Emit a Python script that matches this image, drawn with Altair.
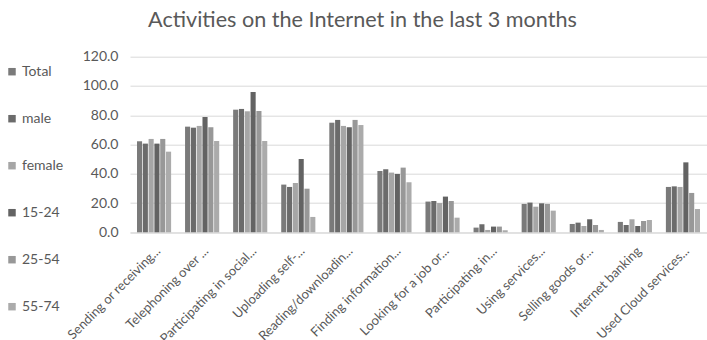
import altair as alt
import pandas as pd

categories = [
    "Sending or receiving...",
    "Telephoning over ...",
    "Participating in social...",
    "Uploading self-...",
    "Reading/downloadin...",
    "Finding information...",
    "Looking for a job or...",
    "Participating in...",
    "Using services...",
    "Selling goods or...",
    "Internet banking",
    "Used Cloud services...",
]

groups = ["Total", "male", "female", "15-24", "25-54", "55-74"]
colors = ["#7a7a7a", "#6b6b6b", "#a6a6a6", "#636363", "#989898", "#ababab"]

total = [62.2, 72.2, 83.8, 32.6, 74.9, 41.9, 21.0, 3.2, 19.4, 5.7, 7.1, 31.0]
male = [60.6, 71.5, 84.3, 31.0, 76.8, 43.1, 21.4, 5.5, 20.3, 6.6, 5.0, 31.4]
female = [63.8, 72.7, 82.7, 33.7, 72.7, 40.8, 20.0, 1.6, 17.5, 4.3, 8.9, 31.0]
age_15_24 = [60.6, 78.8, 95.9, 50.1, 71.8, 39.9, 24.4, 3.9, 19.8, 8.9, 4.3, 47.8]
age_25_54 = [63.8, 71.8, 82.9, 29.8, 76.8, 44.2, 21.4, 3.9, 19.4, 5.0, 7.7, 26.9]
age_55_74 = [55.1, 62.4, 62.4, 10.5, 73.3, 34.2, 10.0, 1.4, 14.8, 1.6, 8.4, 15.9]

series = [total, male, female, age_15_24, age_25_54, age_55_74]

rows = []
for g, vals in zip(groups, series):
    for c, v in zip(categories, vals):
        rows.append({"activity": c, "group": g, "value": v})
df = pd.DataFrame(rows)

FONT = "Lato"
GREY = "#595959"

chart = (
    alt.Chart(df)
    .mark_bar()
    .encode(
        x=alt.X(
            "activity:N",
            sort=categories,
            title=None,
            scale=alt.Scale(paddingInner=0.29, paddingOuter=0.145),
            axis=alt.Axis(
                labelAngle=-45,
                labelFontSize=13,
                labelColor=GREY,
                labelFont=FONT,
                ticks=False,
                domainColor="#d9d9d9",
                labelPadding=12,
                labelLimit=300,
            ),
        ),
        xOffset=alt.XOffset(
            "group:N", sort=groups, scale=alt.Scale(paddingInner=0.12, paddingOuter=0)
        ),
        y=alt.Y(
            "value:Q",
            title=None,
            scale=alt.Scale(domain=[0, 120], nice=False),
            axis=alt.Axis(
                values=[0, 20, 40, 60, 80, 100, 120],
                format=".1f",
                domain=False,
                ticks=False,
                gridColor="#d9d9d9",
                labelFontSize=14,
                labelColor=GREY,
                labelFont=FONT,
                labelPadding=12,
            ),
        ),
        color=alt.Color(
            "group:N",
            sort=groups,
            scale=alt.Scale(domain=groups, range=colors),
            legend=alt.Legend(
                title=None,
                orient="none",
                legendX=-125,
                legendY=8,
                symbolType="square",
                symbolSize=56,
                symbolStrokeWidth=0,
                labelFontSize=14,
                labelColor=GREY,
                labelFont=FONT,
                labelOffset=3,
                rowPadding=33,
            ),
        ),
    )
    .properties(
        width=577,
        height=175.6,
        padding={"left": 130, "top": 56.7, "right": 0, "bottom": 107.7},
        autosize=alt.AutoSizeParams(type="none"),
        title=alt.Title(
            "Activities on the Internet in the last 3 months",
            fontSize=21.6,
            font=FONT,
            fontWeight="normal",
            color=GREY,
            anchor="middle",
            dx=-56,
            offset=18,
        ),
    )
    .configure_view(stroke=None)
)

chart.save("out.html", embed_options={"renderer": "svg", "actions": False})
